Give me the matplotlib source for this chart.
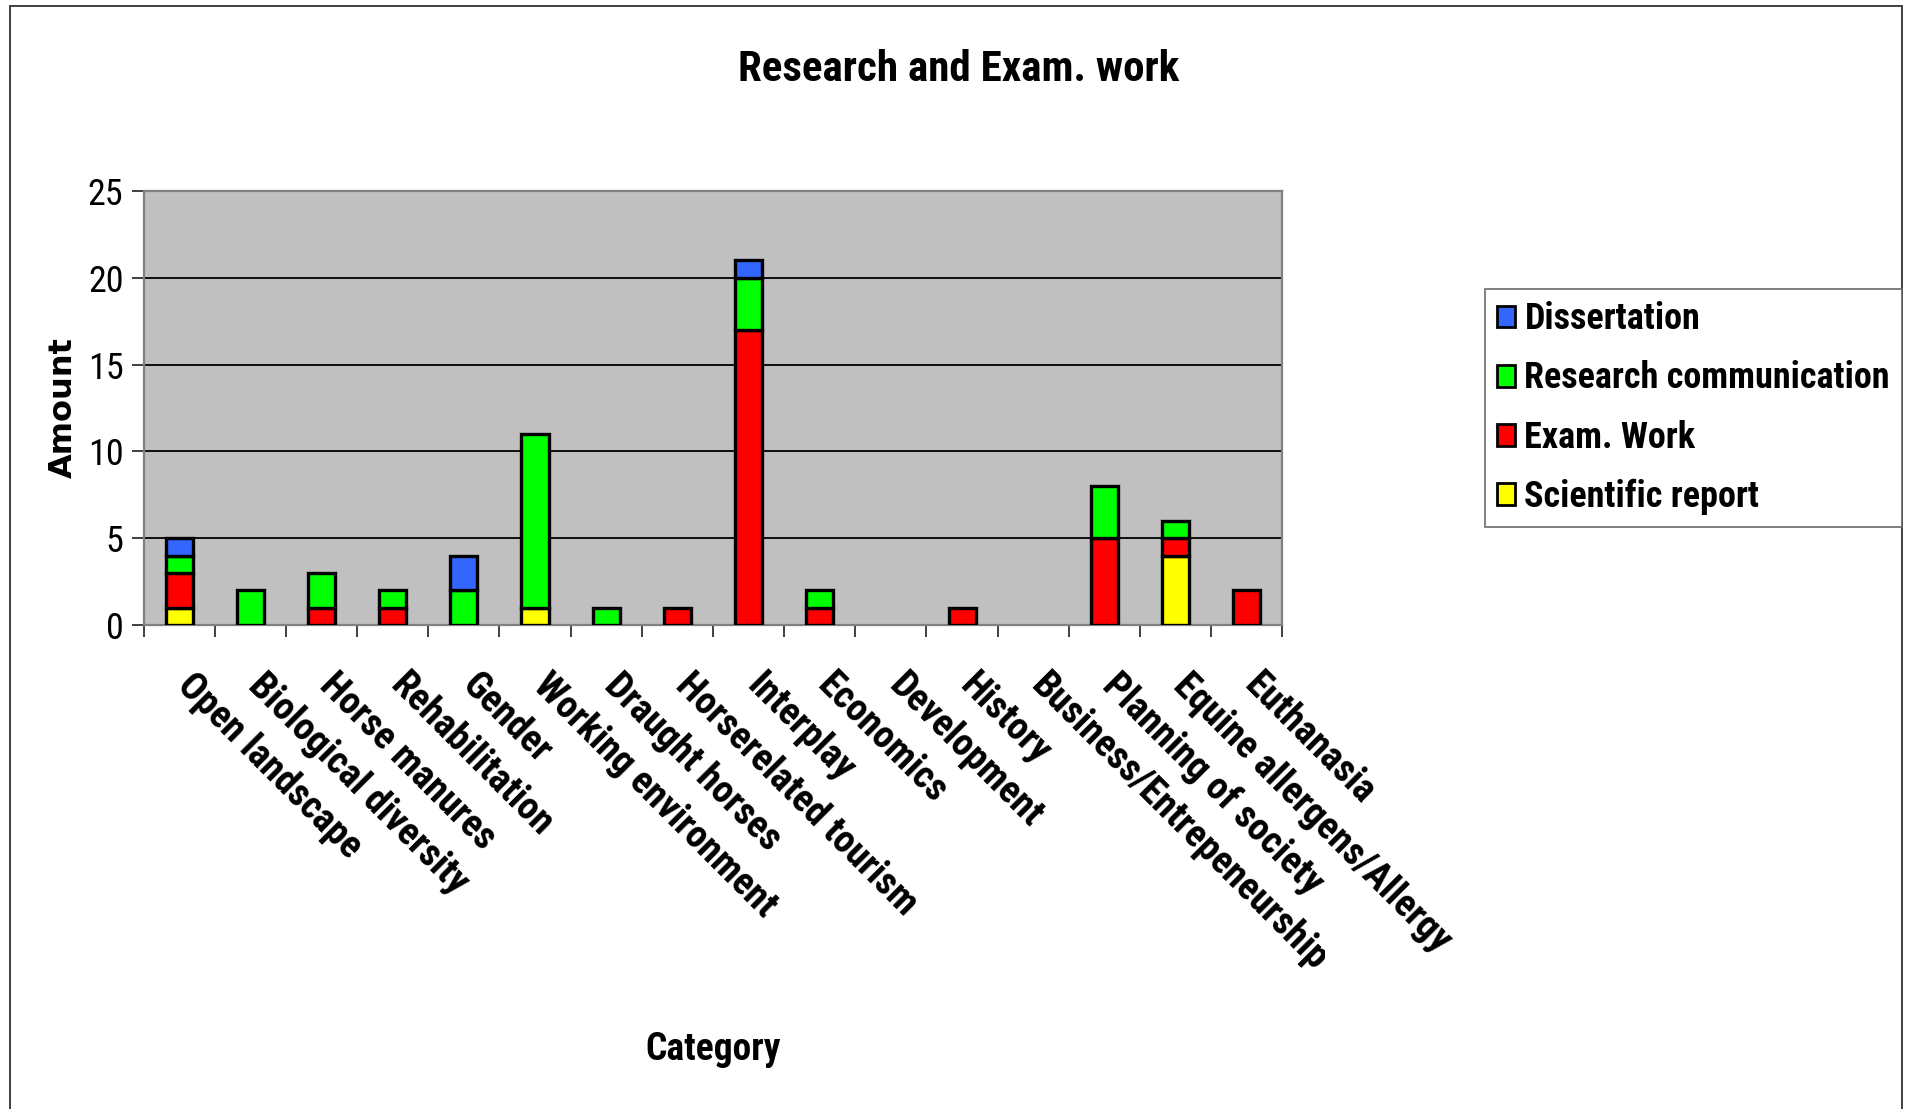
import matplotlib
matplotlib.use("Agg")
import matplotlib.pyplot as plt
from matplotlib.patches import Rectangle
from matplotlib.transforms import Bbox, ScaledTranslation
import numpy as np

plt.rcParams['font.family'] = ['Roboto Condensed', 'Liberation Sans', 'DejaVu Sans']

# Datos
categorias = ["Open landscape", "Biological diversity", "Horse manures", "Rehabilitation",
              "Gender", "Working environment", "Draught horses", "Horserelated tourism",
              "Interplay", "Economics", "Development", "History",
              "Business/Entrepeneurship", "Planning of society", "Equine allergens/Allergy",
              "Euthanasia"]
scientific_report = [1, 0, 0, 0, 0, 1, 0, 0, 0, 0, 0, 0, 0, 0, 4, 0]
exam_work = [2, 0, 1, 1, 0, 0, 0, 1, 17, 1, 0, 1, 0, 5, 1, 2]
research_comm = [1, 2, 2, 1, 2, 10, 1, 0, 3, 1, 0, 0, 0, 3, 1, 0]
dissertation = [1, 0, 0, 0, 2, 0, 0, 0, 1, 0, 0, 0, 0, 0, 0, 0]
yticks = [0, 5, 10, 15, 20, 25]

series = [("Scientific report", scientific_report, "#FFFF00"),
          ("Exam. Work", exam_work, "#FF0000"),
          ("Research communication", research_comm, "#00FF00"),
          ("Dissertation", dissertation, "#3366FF")]

W, H = 1906, 1109
fig = plt.figure(figsize=(W / 100, H / 100), dpi=100)
ax = fig.add_axes([0.0753, 0.4364, 0.5975, 0.3915])
ax.set_facecolor("#C0C0C0")

x = np.arange(len(categorias))
base = np.zeros(len(categorias))
handles = []
for nombre, valores, color in series:
    valores = np.array(valores, dtype=float)
    # no dibujar segmentos vacios
    b = ax.bar(x[valores > 0], valores[valores > 0], width=0.38, bottom=base[valores > 0],
               color=color, edgecolor="black", linewidth=2.4, label=nombre, zorder=3)
    base += valores
    handles.append(b)

ax.set_xlim(-0.5, len(categorias) - 0.5)
ax.set_ylim(0, 25)
ax.set_yticks(yticks)
ax.grid(axis="y", color="black", linewidth=1.3, zorder=1)
ax.set_axisbelow(True)

for s in ax.spines.values():
    s.set_color("#808080")
    s.set_linewidth(1.6)

# ticks entre categorias
ax.set_xticks(x)
ax.set_xticks(np.arange(len(categorias) + 1) - 0.5, minor=True)
ax.tick_params(axis="x", which="major", length=0, pad=30)
ax.tick_params(axis="x", which="minor", length=8.5, width=1.4, color="#404040")
ax.tick_params(axis="y", length=8.5, width=1.4, color="#404040", labelsize=26, pad=6)
ax.set_xticklabels(categorias, rotation=-45, ha="left", va="top",
                   rotation_mode="anchor", fontsize=27.5, fontweight="bold")

desplaz = ScaledTranslation(0.17, 0, fig.dpi_scale_trans)
for lab in ax.get_xticklabels():
    lab.set_transform(lab.get_transform() + desplaz)
    # la etiqueta larga queda recortada en el original
    if lab.get_text().startswith("Business"):
        lab.set_clip_on(True)
        lab.set_clip_box(Bbox.from_extents(0, 0, 1325, H))

ax.set_ylabel("Amount", fontsize=23, fontweight="bold", family="DejaVu Sans", va="center")
ax.yaxis.set_label_coords(-0.070, 0.5)
fig.text(587 / 1568, 1 - 863 / 912, "Category", fontsize=27, fontweight="bold",
         ha="center", va="center")
fig.text(789 / 1568, 1 - 57 / 912, "Research and Exam. work", fontsize=31,
         fontweight="bold", ha="center", va="center")

leg = fig.legend(handles[::-1], [s[0] for s in series][::-1],
                 loc="upper left", bbox_to_anchor=(1222 / 1568, 1 - 238 / 912),
                 prop={"weight": "bold", "size": 26}, frameon=True,
                 fancybox=False, edgecolor="#606060", handlelength=0.5,
                 handleheight=0.55, handletextpad=0.25, labelspacing=0.64,
                 borderpad=0.33, borderaxespad=0)
leg.get_frame().set_linewidth(1.4)
for p in leg.get_patches():
    p.set_linewidth(2.0)

# marco del grafico
fig.add_artist(Rectangle((8 / 1568, -0.1), (1565 - 8) / 1568, 1.1 - 5 / 912,
                         transform=fig.transFigure, fill=False,
                         edgecolor="#404040", linewidth=1.4))

fig.savefig("out.png", dpi=100, facecolor="white")
